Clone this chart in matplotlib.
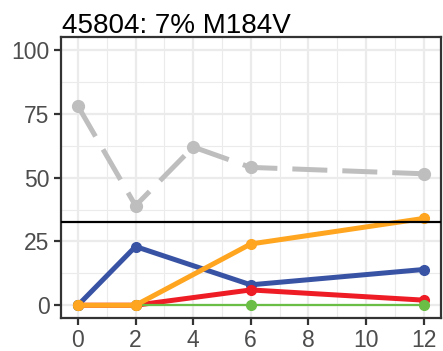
import matplotlib.pyplot as plt
from matplotlib.ticker import MultipleLocator

plt.rcParams["font.family"] = ["Liberation Sans", "DejaVu Sans"]

# Données
days = [0, 2, 4, 6, 12]
grey_vals = [78, 39, 62, 54, 51.5]

days_c = [0, 2, 6, 12]
blue_vals = [0, 23, 8, 14]
red_vals = [0, 0, 6, 2]
green_vals = [0, 0, 0, 0]
orange_vals = [0, 0, 24, 34]

threshold = 32.5
title = "45804: 7% M184V"

x_ticks = [0, 2, 4, 6, 8, 10, 12]
y_ticks = [0, 25, 50, 75, 100]

fig = plt.figure(figsize=(4.43, 3.51), dpi=100)
ax = fig.add_axes([0.137, 0.094, 0.858, 0.80])

# Grille style ggplot theme_bw
ax.set_axisbelow(True)
ax.xaxis.set_minor_locator(MultipleLocator(1))
ax.yaxis.set_minor_locator(MultipleLocator(12.5))
ax.grid(which="major", color="#EBEBEB", linewidth=1.6)
ax.grid(which="minor", color="#EBEBEB", linewidth=0.8)
ax.tick_params(which="minor", length=0)

# Courbes
ax.plot(days, grey_vals, color="#BEBEBE", linewidth=3.6, dashes=(7, 3),
        dash_capstyle="butt", marker="o", markersize=8.5, zorder=3)
ax.plot(days_c, blue_vals, color="#3953A4", linewidth=3.6, marker="o",
        markersize=7, zorder=4)
ax.plot(days_c, red_vals, color="#EE1C25", linewidth=3.6, marker="o",
        markersize=7, zorder=4)
ax.plot(days_c, green_vals, color="#6ABD45", linewidth=1.6, marker="o",
        markersize=7, zorder=4)
ax.plot(days_c, orange_vals, color="#FFA51F", linewidth=3.6, marker="o",
        markersize=7, zorder=5)

ax.axhline(threshold, color="black", linewidth=1.6, zorder=6)

ax.set_xlim(-0.6, 12.6)
ax.set_ylim(-5, 105)
ax.set_xticks(x_ticks)
ax.set_yticks(y_ticks)
ax.tick_params(which="major", length=5, width=1.6, color="#333333",
               labelcolor="#4D4D4D", labelsize=16.5, pad=3)

for s in ax.spines.values():
    s.set_color("#333333")
    s.set_linewidth(1.6)

fig.text(62 / 443, 1 - 33 / 351, title, fontsize=20, color="black",
         ha="left", va="baseline")

fig.savefig("out.png", dpi=100)
